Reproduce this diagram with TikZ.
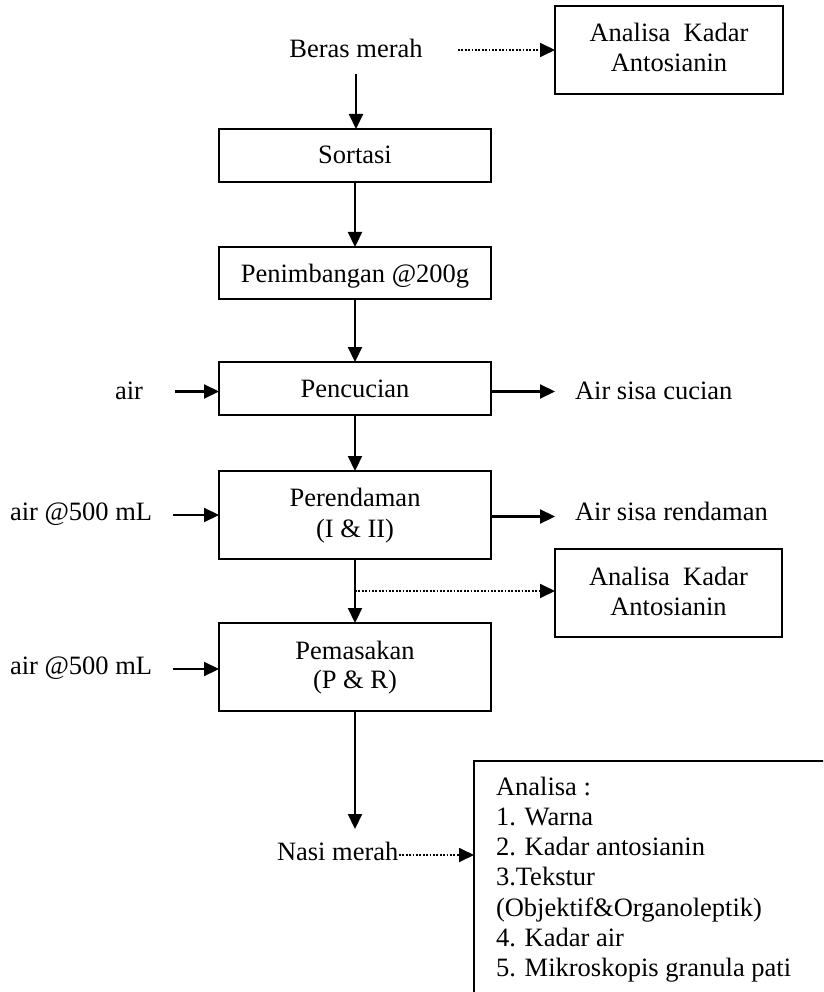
\documentclass[tikz,border=0pt]{standalone}
\usepackage{fontspec}
\setmainfont{Liberation Serif}
\usetikzlibrary{arrows.meta}
\begin{document}
\begin{tikzpicture}[x=1pt,y=-1pt,
  every node/.style={font=\fontsize{26.5}{30}\selectfont, inner sep=0pt, outer sep=0pt},
  box/.style={draw, line width=2pt, rectangle, minimum width=272pt},
  lbl/.style={anchor=base},
  lbll/.style={anchor=base west},
  arr/.style={line width=2.2pt, -{Triangle[length=15pt,width=14pt]}},
  dotarr/.style={line width=1.8pt, dash pattern=on 1.8pt off 1.6pt, -{Triangle[length=15pt,width=14pt]}}
]
\useasboundingbox (0,0) rectangle (823,992);
\clip (0,0) rectangle (823,992);
\fill[white] (0,0) rectangle (823,992);

% boxes
\node[box, minimum width=228pt, minimum height=88pt] (anaTop) at (669,50) {};
\node[box, minimum height=53pt] (sortasi) at (355,155.5) {};
\node[box, minimum height=52pt] (penimb) at (355,273) {};
\node[box, minimum height=53pt] (pencuc) at (355,388.5) {};
\node[box, minimum height=88pt] (perend) at (355,515) {};
\node[box, minimum width=227pt, minimum height=88pt] (anaMid) at (668.5,593) {};
\node[box, minimum height=88pt] (pemas) at (355,667) {};
\node[box, minimum width=380pt, minimum height=260pt, anchor=north west] (big) at (474,761) {};

% texts in boxes
\node[lbl] (tA1) at (669,42) {Analisa\ \ Kadar};
\node[lbl] (tA2) at (669,72) {Antosianin};
\node[lbl] (tS) at (355,164) {Sortasi};
\node[lbl] (tP) at (355,282) {Penimbangan @200g};
\node[lbl] (tC) at (355,397) {Pencucian};
\node[lbl] (tR1) at (355,506) {Perendaman};
\node[lbl] (tR2) at (355,537) {(I \& II)};
\node[lbl] (tM1) at (668.5,585) {Analisa\ \ Kadar};
\node[lbl] (tM2) at (668.5,615) {Antosianin};
\node[lbl] (tK1) at (355,659) {Pemasakan};
\node[lbl] (tK2) at (355,688) {(P \& R)};
\node[lbll] (b1) at (496,795) {Analisa :};
\node[lbll] (b2) at (496,825.3) {1. Warna};
\node[lbll] (b3) at (496,855.6) {2. Kadar antosianin};
\node[lbll] (b4) at (496,885.9) {3.Tekstur};
\node[lbll] (b5) at (496,916.2) {(Objektif\&Organoleptik)};
\node[lbll] (b6) at (496,946.5) {4. Kadar air};
\node[lbll] (b7) at (496,976.8) {5. Mikroskopis granula pati};

% outside labels
\node[lbl] (beras) at (356,58) {Beras merah};
\node[lbl] (air1) at (129,399) {air};
\node[lbll] (air2) at (10,520) {air @500 mL};
\node[lbll] (air3) at (10,674) {air @500 mL};
\node[lbll] (sisa1) at (575,399) {Air sisa cucian};
\node[lbll] (sisa2) at (575,520) {Air sisa rendaman};
\node[lbll] (nasi) at (277,860) {Nasi merah};

% free ends
\coordinate (c0) at (356,74);
\coordinate (c1) at (458,50);
\coordinate (c2) at (175,391.5);
\coordinate (c3) at (555,391.5);
\coordinate (c4) at (173,515);
\coordinate (c5) at (555,516.5);
\coordinate (c6) at (355,591);
\coordinate (c7) at (173,669);
\coordinate (c8) at (355,829);
\coordinate (c9) at (399,855);

% connectors
\draw[arr] (c0) -- (c0 |- sortasi.north);
\draw[dotarr] (c1) -- (anaTop.west);
\draw[arr] (sortasi.south) -- (penimb.north);
\draw[arr] (penimb.south) -- (pencuc.north);
\draw[arr] (pencuc.south) -- (perend.north);
\draw[arr] (perend.south) -- (pemas.north);
\draw[arr] (c2) -- (c2 -| pencuc.west);
\draw[arr] (c3 -| pencuc.east) -- (c3);
\draw[arr] (c4) -- (c4 -| perend.west);
\draw[arr] (c5 -| perend.east) -- (c5);
\draw[dotarr] (c6) -- (c6 -| anaMid.west);
\draw[arr] (c7) -- (c7 -| pemas.west);
\draw[arr] (pemas.south) -- (c8);
\draw[dotarr] (c9) -- (c9 -| big.west);
\end{tikzpicture}
\end{document}
